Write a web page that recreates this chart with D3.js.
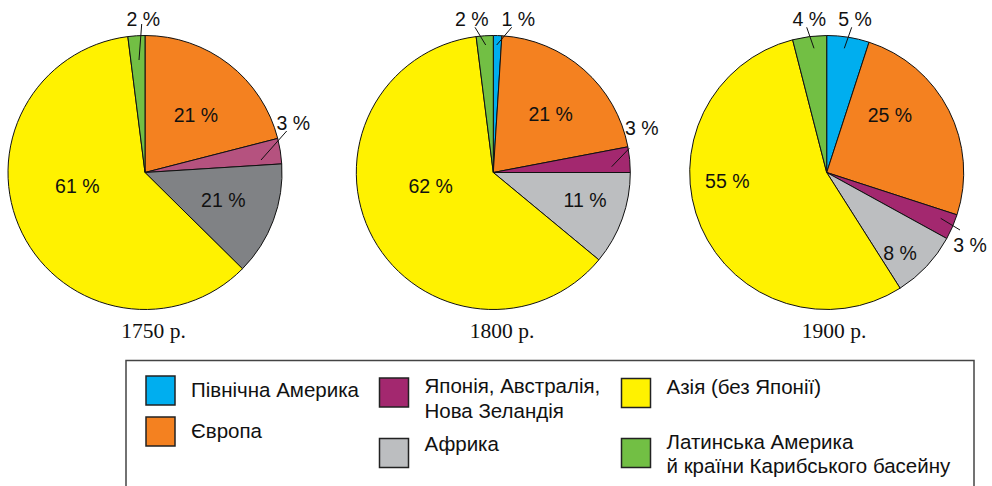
<!DOCTYPE html>
<html>
<head>
<meta charset="utf-8">
<script src="https://cdn.jsdelivr.net/npm/d3@7/dist/d3.min.js"></script>
<style>
  html, body { margin: 0; padding: 0; background: #fff; }
  svg { display: block; }
</style>
</head>
<body>
<svg id="chart" width="992" height="486"></svg>
<script>
// ---------- DATA ----------
const categories = [
  "Північна Америка",
  "Європа",
  "Японія, Австралія, Нова Зеландія",
  "Африка",
  "Азія (без Японії)",
  "Латинська Америка й країни Карибського басейну"
];
const years = ["1750 р.", "1800 р.", "1900 р."];
// slice shares as drawn (clockwise from 12 o'clock, in category order)
const values1750 = [0, 21, 3, 13.4, 60.6, 2];
const values1800 = [1, 21, 3, 11, 62, 2];
const values1900 = [5, 25, 3, 8, 55, 4];
// printed labels (as in the source)
const labels1750 = ["", "21 %", "3 %", "21 %", "61 %", "2 %"];
const labels1800 = ["1 %", "21 %", "3 %", "11 %", "62 %", "2 %"];
const labels1900 = ["5 %", "25 %", "3 %", "8 %", "55 %", "4 %"];
// legend text lines
const legendLines = [
  ["Північна Америка"],
  ["Європа"],
  ["Японія, Австралія,", "Нова Зеландія"],
  ["Африка"],
  ["Азія (без Японії)"],
  ["Латинська Америка", "й країни Карибського басейну"]
];

// ---------- STYLE / LAYOUT ----------
const colors = ["#00aeef", "#f48120", "#a3286f", "#bcbec0", "#fff200", "#72bf44"];
const colors1750 = ["#00aeef", "#f48120", "#b5527f", "#808285", "#fff200", "#72bf44"];
const pieColors = [colors1750, colors, colors];
const allValues = [values1750, values1800, values1900];
const allLabels = [labels1750, labels1800, labels1900];

const R = 137;
const centersX = [145, 493.3, 826.7];
const centerY = 172.5;

// label anchor offsets relative to each pie centre, [dx, dy]; leader: [x1,y1,x2,y2] or null
const labelLayout = [
  [ null,
    {p:[51,-57.5]},
    {p:[148.3,-49.8], lead:[141.7,-41.5,116,-12.5]},
    {p:[78.3,27.5]},
    {p:[-67.7,13.5]},
    {p:[-1.7,-153.2], lead:[-3.3,-148.5,-6,-112.5]} ],
  [ {p:[25,-153.2], lead:[18.4,-145.2,3.4,-127.5]},
    {p:[57.4,-58.2]},
    {p:[148.4,-44.8], lead:[136,-24.2,118.4,-5.8]},
    {p:[91.7,27.5]},
    {p:[-62.6,13.5]},
    {p:[-21.6,-153.2], lead:[-18.3,-145.2,-7.6,-127.5]} ],
  [ {p:[28.3,-153.2], lead:[25,-145.2,17.6,-124.2]},
    {p:[63.3,-57.5]},
    {p:[143.3,72.5], lead:[114,45.8,133.3,57.5]},
    {p:[73.3,80.8]},
    {p:[-99.4,8.5]},
    {p:[-17.4,-153.2], lead:[-20,-145.2,-12.7,-124.2]} ]
];
const yearDx = [8.5, 8.7, 7.3];
const yearY = 338;

const svg = d3.select("#chart");
const sansFont = "'Liberation Sans', Arial, Helvetica, sans-serif";
const serifFont = "'Liberation Serif', 'Times New Roman', serif";

const pie = d3.pie().sort(null).value(d => d);
const arc = d3.arc().innerRadius(0).outerRadius(R);

allValues.forEach((vals, i) => {
  const g = svg.append("g").attr("transform", `translate(${centersX[i]},${centerY})`);
  const arcs = pie(vals).map((a, k) => Object.assign(a, {k}));
  g.selectAll("path.slice")
    .data(arcs.filter(a => a.value > 0))
    .join("path")
    .attr("class", "slice")
    .attr("d", arc)
    .attr("fill", a => pieColors[i][a.k])
    .attr("stroke", "#111")
    .attr("stroke-width", 1)
    .attr("stroke-linejoin", "round");

  allLabels[i].forEach((lab, k) => {
    const L = labelLayout[i][k];
    if (!lab || !L) return;
    if (L.lead) {
      g.append("line")
        .attr("x1", L.lead[0]).attr("y1", L.lead[1])
        .attr("x2", L.lead[2]).attr("y2", L.lead[3])
        .attr("stroke", "#111").attr("stroke-width", 1);
    }
    g.append("text")
      .attr("x", L.p[0]).attr("y", L.p[1]).attr("dy", "0.36em")
      .attr("text-anchor", "middle")
      .attr("font-family", sansFont)
      .attr("font-size", 19.5)
      .attr("fill", "#111")
      .text(lab);
  });

  svg.append("text")
    .attr("x", centersX[i] + yearDx[i]).attr("y", yearY)
    .attr("text-anchor", "middle")
    .attr("font-family", serifFont)
    .attr("font-size", 21.5)
    .attr("fill", "#111")
    .text(years[i]);
});

// ---------- LEGEND ----------
const legBox = {x: 126, y: 360.5, w: 848, h: 200};
svg.append("rect")
  .attr("x", legBox.x).attr("y", legBox.y)
  .attr("width", legBox.w).attr("height", legBox.h)
  .attr("fill", "none").attr("stroke", "#444").attr("stroke-width", 1.5);

const legendPos = [
  {sx:146, sy:376, ty:396.7},
  {sx:146, sy:417, ty:437.7},
  {sx:379.5, sy:378, ty:393.3},
  {sx:379.5, sy:438.5, ty:450.7},
  {sx:621.5, sy:378.5, ty:394.3},
  {sx:621.5, sy:438.5, ty:449}
];
const sw = 29, textGap = 45, lineH = 24.3;

categories.forEach((c, k) => {
  const p = legendPos[k];
  svg.append("rect")
    .attr("x", p.sx).attr("y", p.sy).attr("width", sw).attr("height", sw)
    .attr("fill", colors[k]).attr("stroke", "#222").attr("stroke-width", 1.5);
  const t = svg.append("text")
    .attr("font-family", sansFont).attr("font-size", 20.5).attr("fill", "#111");
  legendLines[k].forEach((ln, j) => {
    t.append("tspan").attr("x", p.sx + textGap).attr("y", p.ty + j * lineH).text(ln);
  });
});
</script>
</body>
</html>
